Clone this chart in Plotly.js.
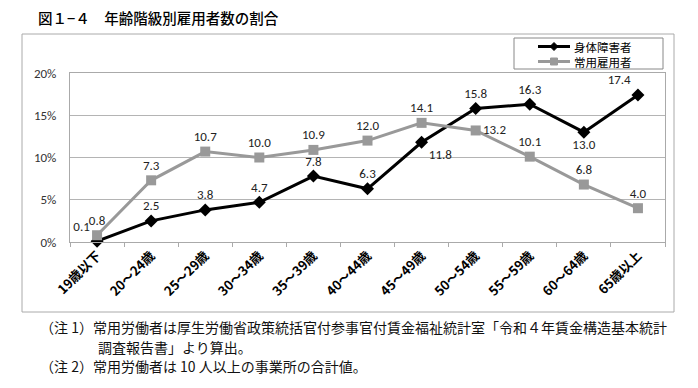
<!DOCTYPE html>
<html>
<head>
<meta charset="utf-8">
<script src="https://cdn.plot.ly/plotly-3.0.1.min.js"></script>
<style>body{margin:0;padding:0;background:#fff}#chart{width:698px;height:388px}</style>
</head>
<body>
<div id="chart"></div>
<script>
var categories = ["19歳以下","20～24歳","25～29歳","30～34歳","35～39歳","40～44歳","45～49歳","50～54歳","55～59歳","60～64歳","65歳以上"];
var disabledValues = [0.1, 2.5, 3.8, 4.7, 7.8, 6.3, 11.8, 15.8, 16.3, 13.0, 17.4];
var regularValues = [0.8, 7.3, 10.7, 10.0, 10.9, 12.0, 14.1, 13.2, 10.1, 6.8, 4.0];
var disabledLabelPos = ["top left","top center","top center","top center","top center","top center","bottom right","top center","top center","bottom center","top left"];
var regularLabelPos = ["top center","top center","top center","top center","top center","top center","top center","middle right","top center","top center","top center"];
var seriesNames = ["身体障害者","常用雇用者"];
var yTicks = [0, 5, 10, 15, 20];

var jp = '"Noto Sans CJK JP", "Noto Sans", sans-serif';
var num = 'Carlito, "Liberation Sans", Arial, sans-serif';

var traces = [
  {
    x: categories, y: disabledValues, name: seriesNames[0], type: 'scatter', mode: 'lines+markers+text',
    line: {color: '#000000', width: 3},
    marker: {symbol: 'diamond', size: 10, color: '#000000'},
    text: disabledValues.map(function(v){return v.toFixed(1);}),
    textposition: disabledLabelPos,
    textfont: {family: num, size: 13, color: '#222'},
    cliponaxis: false, hoverinfo: 'skip', showlegend: false
  },
  {
    x: categories, y: regularValues, name: seriesNames[1], type: 'scatter', mode: 'lines+markers+text',
    line: {color: '#999999', width: 3},
    marker: {symbol: 'square', size: 10, color: '#999999'},
    text: regularValues.map(function(v){return v.toFixed(1);}),
    textposition: regularLabelPos,
    textfont: {family: num, size: 13, color: '#222'},
    cliponaxis: false, hoverinfo: 'skip', showlegend: false
  }
];

// plot area in px: x 70..665, y 73..242
function px(x){return (x-70)/595;}
function py(y){return (242-y)/169;}

var shapes = [
  {type: 'rect', xref: 'paper', yref: 'paper', x0: px(22), x1: px(674), y0: py(312), y1: py(34),
   line: {color: '#aaaaaa', width: 1}, layer: 'below'},
  // legend box
  {type: 'rect', xref: 'paper', yref: 'paper', x0: px(514), x1: px(663), y0: py(69), y1: py(38),
   line: {color: '#888888', width: 1}, fillcolor: '#ffffff'},
  // legend entry 1
  {type: 'line', xref: 'paper', yref: 'paper', x0: px(538), x1: px(570), y0: py(46.5), y1: py(46.5),
   line: {color: '#000000', width: 3}},
  {type: 'path', xref: 'paper', yref: 'paper',
   path: 'M ' + px(554) + ',' + py(42.5) + ' L ' + px(558) + ',' + py(46.5) + ' L ' + px(554) + ',' + py(50.5) + ' L ' + px(550) + ',' + py(46.5) + ' Z',
   fillcolor: '#000000', line: {color: '#000000', width: 1}},
  // legend entry 2
  {type: 'line', xref: 'paper', yref: 'paper', x0: px(538), x1: px(570), y0: py(61.5), y1: py(61.5),
   line: {color: '#999999', width: 3}},
  {type: 'rect', xref: 'paper', yref: 'paper', x0: px(550.5), x1: px(557.5), y0: py(65), y1: py(58),
   fillcolor: '#999999', line: {color: '#999999', width: 1}}
];

var layout = {
  width: 698, height: 388,
  margin: {l: 70, r: 33, t: 73, b: 146},
  paper_bgcolor: '#ffffff', plot_bgcolor: '#ffffff',
  showlegend: false,
  xaxis: {
    type: 'category', range: [-0.5, 10.5], tickangle: -45,
    tickfont: {family: jp, size: 13, color: '#000', weight: 600},
    showgrid: false, showline: true, linecolor: '#aaa', linewidth: 1,
    ticks: 'outside', tickcolor: '#aaa', ticklen: 4,
    tickson: 'boundaries', mirror: true, zeroline: false, fixedrange: true
  },
  yaxis: {
    range: [0, 20], tickvals: yTicks, ticktext: yTicks.map(function(v){return v + '%';}),
    tickfont: {family: num, size: 13, color: '#333'},
    showgrid: true, gridcolor: '#b4b4b4', gridwidth: 1,
    showline: true, linecolor: '#aaa', linewidth: 1, mirror: true,
    zeroline: false, ticks: '', ticklen: 0, ticklabelstandoff: 10, fixedrange: true
  },
  shapes: shapes,
  annotations: [
    {xref: 'paper', yref: 'paper', x: px(36), y: py(17), xanchor: 'left', yanchor: 'middle', showarrow: false,
     text: '図１−４　年齢階級別雇用者数の割合', font: {family: jp, size: 14.5, color: '#000', weight: 500}},
    {xref: 'paper', yref: 'paper', x: px(572), y: py(46.5), xanchor: 'left', yanchor: 'middle', showarrow: false,
     text: seriesNames[0], font: {family: jp, size: 11.5, color: '#000'}},
    {xref: 'paper', yref: 'paper', x: px(572), y: py(61.5), xanchor: 'left', yanchor: 'middle', showarrow: false,
     text: seriesNames[1], font: {family: jp, size: 11.5, color: '#000'}},
    {xref: 'paper', yref: 'paper', x: px(38), y: py(327), xanchor: 'left', yanchor: 'middle', showarrow: false,
     text: '（注 1）常用労働者は厚生労働省政策統括官付参事官付賃金福祉統計室「令和４年賃金構造基本統計', font: {family: jp, size: 14, color: '#111'}},
    {xref: 'paper', yref: 'paper', x: px(96), y: py(346.5), xanchor: 'left', yanchor: 'middle', showarrow: false,
     text: '調査報告書」より算出。', font: {family: jp, size: 14, color: '#111'}},
    {xref: 'paper', yref: 'paper', x: px(38), y: py(366), xanchor: 'left', yanchor: 'middle', showarrow: false,
     text: '（注 2）常用労働者は 10 人以上の事業所の合計値。', font: {family: jp, size: 14, color: '#111'}}
  ]
};

Plotly.newPlot('chart', traces, layout, {displayModeBar: false, staticPlot: true});
</script>
</body>
</html>
